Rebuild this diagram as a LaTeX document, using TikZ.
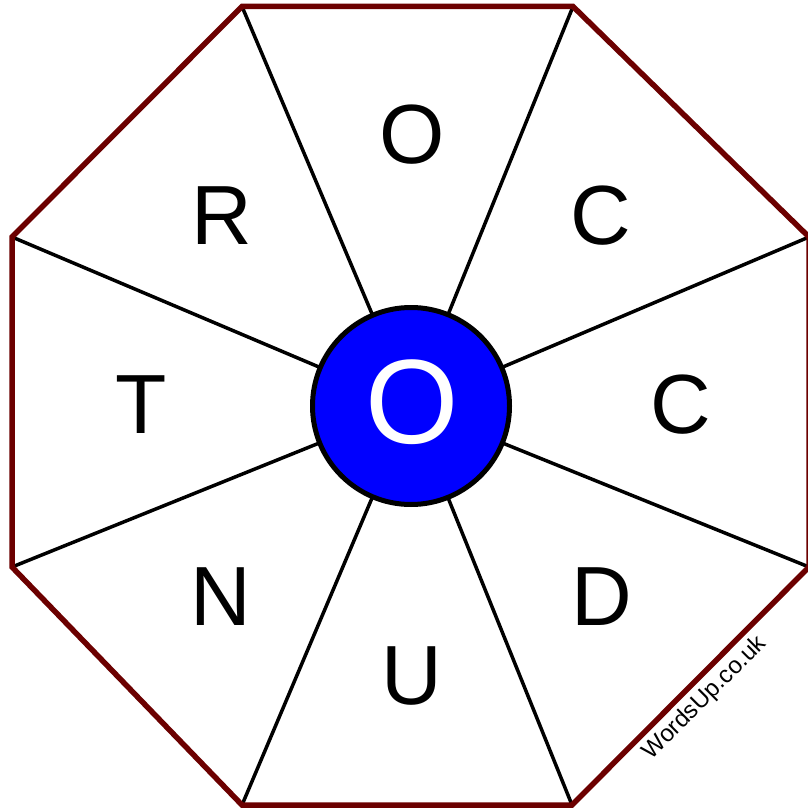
\documentclass[tikz,border=0pt]{standalone}
\usepackage{fontspec}
\setmainfont{Liberation Sans}
\definecolor{octred}{RGB}{108,0,0}
\definecolor{hubblue}{RGB}{0,0,255}
\begin{document}
\begin{tikzpicture}[x=1pt,y=-1pt,
  rim/.style={draw=octred,line width=5.5pt,line join=miter},
  spoke/.style={draw=black,line width=3.5pt},
  hub/.style={circle,draw=black,line width=5pt,fill=hubblue,minimum size=197pt,inner sep=0pt},
  letter/.style={font=\fontsize{84}{84}\selectfont,inner sep=0pt,text=black},
  hubletter/.style={font=\fontsize{120}{120}\selectfont,inner sep=0pt,text=white},
  credit/.style={font=\fontsize{24}{24}\selectfont,inner sep=0pt,rotate=45}]
\useasboundingbox (0,0) rectangle (807,810);
\fill[white] (0,0) rectangle (807,810);
% octagon vertices
\coordinate (v1) at (242,6.5);
\coordinate (v2) at (573,6.5);
\coordinate (v3) at (809,237);
\coordinate (v4) at (809,567);
\coordinate (v5) at (572,805);
\coordinate (v6) at (242,805);
\coordinate (v7) at (12,567);
\coordinate (v8) at (12,237);
\coordinate (c) at (411,406);
% spokes
\foreach \v in {v1,v2,v3,v4,v5,v6,v7,v8}{\draw[spoke] (\v) -- (c);}
% rim
\draw[rim] (v1) -- (v2) -- (v3) -- (v4) -- (v5) -- (v6) -- (v7) -- (v8) -- cycle;
% hub
\node[hub] (hub) at (c) {};
\node[hubletter] (hl) at (412,402) {O};
% letters
\node[letter] (l1) at (412,135) {O};
\node[letter] (l2) at (601,216) {C};
\node[letter] (l3) at (681,405) {C};
\node[letter] (l4) at (602,597) {D};
\node[letter] (l5) at (412,676) {U};
\node[letter] (l6) at (221,597) {N};
\node[letter] (l7) at (141,405) {T};
\node[letter] (l8) at (222,216) {R};
% credit
\node[credit] (cr) at (705,698) {WordsUp.co.uk};
\end{tikzpicture}
\end{document}
